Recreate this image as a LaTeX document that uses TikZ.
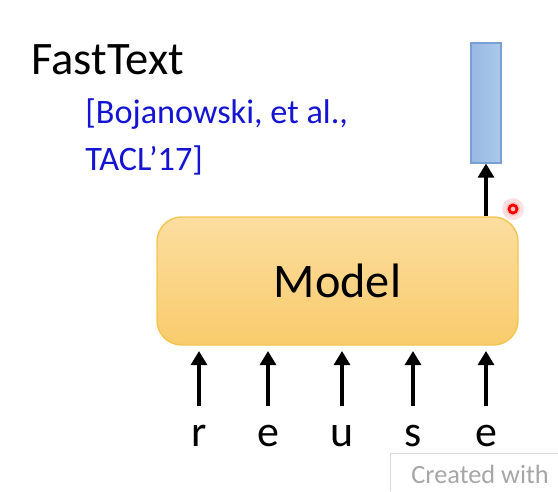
\documentclass[tikz,border=0pt]{standalone}
\usepackage{fontspec}
\setmainfont{Carlito}
\usetikzlibrary{arrows.meta}

\definecolor{modelTop}{RGB}{252,222,160}
\definecolor{modelBot}{RGB}{249,203,108}
\definecolor{modelLine}{RGB}{244,196,80}
\definecolor{vecLeft}{RGB}{152,185,228}
\definecolor{vecRight}{RGB}{172,200,234}
\definecolor{vecLine}{RGB}{120,160,210}
\definecolor{refBlue}{RGB}{20,20,210}

\tikzset{
  modelbox/.style={draw=modelLine, line width=0.8pt, rounded corners=14pt,
    top color=modelTop, bottom color=modelBot,
    minimum width=361*0.02cm, minimum height=128*0.02cm,
    font=\fontsize{27.5}{32}\selectfont},
  vecbox/.style={draw=vecLine, line width=0.6pt,
    left color=vecLeft, right color=vecRight,
    minimum width=30*0.02cm, minimum height=120*0.02cm},
  letter/.style={font=\fontsize{25}{30}\selectfont, inner sep=0pt},
  uparrow/.style={->, line width=2.2pt}
}

\begin{document}
\begin{tikzpicture}[x=0.02cm, y=-0.02cm, >={Triangle[length=8pt,width=9pt]}]
            % ==== DEFINITIONS ====
            \def\letterY{436} % row of the input letters
            \useasboundingbox (0,0) rectangle (558,491);

            % ==== TITLE AND REFERENCE ====
            \node[anchor=west, inner sep=0pt, font=\fontsize{26.5}{30}\selectfont] (title) at (31,60) {FastText};
            \node[anchor=north west, inner sep=0pt, align=left, text=refBlue,
                  font=\fontsize{19.5}{27}\selectfont] (cite) at (85,98) {[Bojanowski, et al.,\\TACL’17]};

            % ==== MODEL ====
            \node[modelbox] (model) at (337.5,281) {Model};

            % ==== OUTPUT VECTOR ====
            \node[vecbox] (vec) at (486,103) {};
            \draw[uparrow] (model.north -| vec.south) -- (vec.south);

            % ==== INPUT LETTERS ====
            \foreach \name/\x/\ch in {r1/199/r, e1/268/e, u1/342/u, s1/413/s, e2/486/e} {
                \node[letter] (\name) at (\x,\letterY) {\ch};
                \draw[uparrow, shorten <=11pt, shorten >=3pt] (\name.north) -- (\name.north |- model.south);
            }

            % ==== POINTER DOT ====
            \fill[red!12] (513,209) circle(11);
            \fill[red!22] (513,209) circle(7);
            \draw[red, line width=1.6pt] (513,209) circle(4);

            % ==== WATERMARK ====
            \draw[gray!30, fill=white] (390,491) -- (390,453) -- (558,453);
            \node[anchor=west, inner sep=0pt, text=gray!70, font=\fontsize{15}{18}\selectfont] (mark) at (411,474) {Created with};

        \end{tikzpicture}
\end{document}
